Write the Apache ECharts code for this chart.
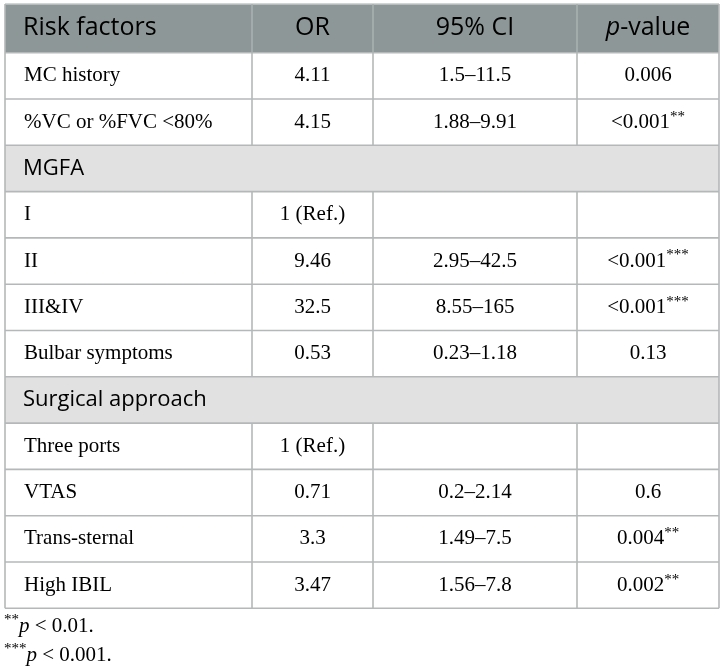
<!DOCTYPE html>
<html lang="en">
<head>
<meta charset="UTF-8">
<title>Risk factors table</title>
<script src="https://cdn.jsdelivr.net/npm/echarts@6/dist/echarts.min.js"></script>
<style>
  html, body { margin: 0; padding: 0; background: #fff; }
  #main { width: 725px; height: 672px; }
</style>
</head>
<body>
<div id="main"></div>
<script>
    // table content
    var headers = ['Risk factors', 'OR', '95% CI', 'p-value'];
    var factors = ['MC history', '%VC or %FVC <80%', 'MGFA', 'I', 'II', 'III&IV', 'Bulbar symptoms',
        'Surgical approach', 'Three ports', 'VTAS', 'Trans-sternal', 'High IBIL'];
    var isSection = [false, false, true, false, false, false, false, true, false, false, false, false];
    var orValues = ['4.11', '4.15', '', '1 (Ref.)', '9.46', '32.5', '0.53', '', '1 (Ref.)', '0.71', '3.3', '3.47'];
    var ciValues = ['1.5\u201311.5', '1.88\u20139.91', '', '', '2.95\u201342.5', '8.55\u2013165', '0.23\u20131.18',
        '', '', '0.2\u20132.14', '1.49\u20137.5', '1.56\u20137.8'];
    var pValues = ['0.006', '<0.001', '', '', '<0.001', '<0.001', '0.13', '', '', '0.6', '0.004', '0.002'];
    var pStars = ['', '**', '', '', '***', '***', '', '', '', '', '**', '**'];
    var footStars = ['**', '***'];
    var footText = [' < 0.01.', ' < 0.001.'];

    // layout
    var colX = [5, 252, 373, 577, 719];
    var tableTop = 4, headH = 48.7, rowH = 46.3;
    var footY = [626, 655];
    var lineColor = '#b5b8b8';
    var serif = '"Liberation Serif", "DejaVu Serif", serif';
    var sans = '"Open Sans", "Noto Sans", sans-serif';

    var rich = {
        n: { fontFamily: serif, fontSize: 21, color: '#1a1a1a', lineHeight: 26 },
        s: { fontFamily: serif, fontSize: 15, color: '#1a1a1a', lineHeight: 14, verticalAlign: 'top' },
        i: { fontFamily: serif, fontSize: 21, color: '#1a1a1a', fontStyle: 'italic', lineHeight: 26 },
        h: { fontFamily: sans, fontSize: 25, color: '#f7f7f7', lineHeight: 30 },
        hi: { fontFamily: sans, fontSize: 25, color: '#f7f7f7', fontStyle: 'italic', lineHeight: 30 },
        sec: { fontFamily: sans, fontSize: 22, color: '#1a1a1a', lineHeight: 28 }
    };

    function esc(t) { return String(t).replace(/[{}|]/g, ''); }

    var els = [];
    var tableW = colX[4] - colX[0];
    var tableBottom = tableTop + headH + rowH * factors.length;

    // header background
    els.push({ type: 'rect', shape: { x: colX[0], y: tableTop, width: tableW, height: headH },
        style: { fill: '#8e9797' } });
    // section backgrounds
    factors.forEach(function (f, k) {
        if (isSection[k]) {
            els.push({ type: 'rect', shape: { x: colX[0], y: tableTop + headH + rowH * k, width: tableW, height: rowH },
                style: { fill: '#e0e1e0' } });
        }
    });

    function txt(x, y, str, align) {
        els.push({ type: 'text', x: x, y: y,
            style: { text: str, rich: rich, align: align, verticalAlign: 'middle' } });
    }

    // header texts
    var hy = tableTop + headH / 2;
    txt(colX[0] + 18, hy, '{h|' + headers[0] + '}', 'left');
    txt((colX[1] + colX[2]) / 2, hy, '{h|' + headers[1] + '}', 'center');
    txt((colX[2] + colX[3]) / 2, hy, '{h|' + headers[2] + '}', 'center');
    txt((colX[3] + colX[4]) / 2, hy, '{hi|p}{h|-value}', 'center');

    // body rows
    factors.forEach(function (f, k) {
        var cy = tableTop + headH + rowH * k + rowH / 2;
        if (isSection[k]) {
            txt(colX[0] + 18, cy, '{sec|' + f + '}', 'left');
            return;
        }
        txt(colX[0] + 19, cy, '{n|' + esc(f) + '}', 'left');
        if (orValues[k]) txt((colX[1] + colX[2]) / 2, cy, '{n|' + orValues[k] + '}', 'center');
        if (ciValues[k]) txt((colX[2] + colX[3]) / 2, cy, '{n|' + ciValues[k] + '}', 'center');
        if (pValues[k]) txt((colX[3] + colX[4]) / 2, cy,
            '{n|' + pValues[k] + '}' + (pStars[k] ? '{s|' + pStars[k] + '}' : ''), 'center');
    });

    // grid lines
    function line(x1, y1, x2, y2, c) {
        els.push({ type: 'line', shape: { x1: x1, y1: y1, x2: x2, y2: y2 },
            style: { stroke: c || lineColor, lineWidth: 1.6 } });
    }
    line(colX[0], tableTop, colX[4], tableTop, '#c4c9c9');
    for (var k = 0; k <= factors.length; k++) {
        line(colX[0], tableTop + headH + rowH * k, colX[4], tableTop + headH + rowH * k);
    }
    line(colX[0], tableTop, colX[0], tableBottom);
    line(colX[4], tableTop, colX[4], tableBottom);
    // column dividers, skipped across section rows
    for (var c = 1; c < 4; c++) {
        line(colX[c], tableTop, colX[c], tableTop + headH, '#a9b1b1');
        factors.forEach(function (f, k) {
            if (!isSection[k]) {
                var y0 = tableTop + headH + rowH * k;
                line(colX[c], y0, colX[c], y0 + rowH);
            }
        });
    }

    // footnotes
    footStars.forEach(function (s, k) {
        txt(colX[0] - 1, footY[k], '{s|' + s + '}{i|p}{n|' + footText[k] + '}', 'left');
    });

    var myChart = echarts.init(document.getElementById('main'));
    myChart.setOption({
        backgroundColor: '#fff',
        animation: false,
        graphic: { elements: els }
    });
</script>
</body>
</html>
